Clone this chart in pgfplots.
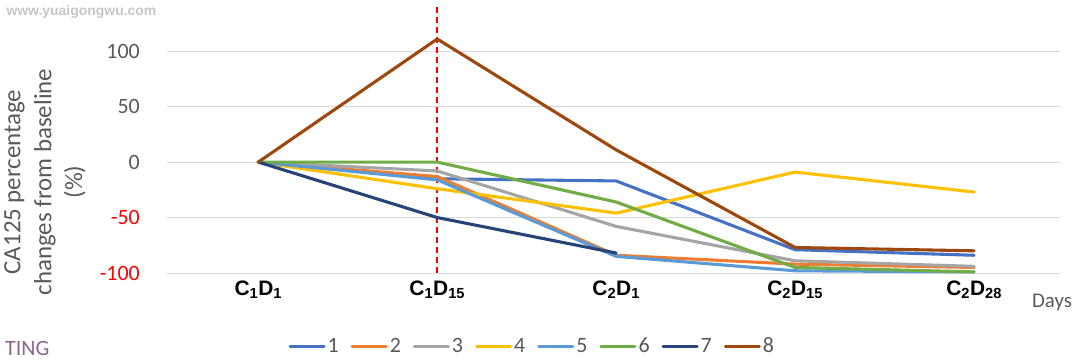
\documentclass[border=0pt]{standalone}
\usepackage{pgfplots}
\pgfplotsset{compat=1.18}
\usepackage{fontspec}
\setmainfont{Carlito}
\newfontfamily\arialfont{Liberation Sans}
\definecolor{s1}{HTML}{4472C4}
\definecolor{s2}{HTML}{ED7D31}
\definecolor{s3}{HTML}{A5A5A5}
\definecolor{s4}{HTML}{FFC000}
\definecolor{s5}{HTML}{5B9BD5}
\definecolor{s6}{HTML}{70AD47}
\definecolor{s7}{HTML}{264478}
\definecolor{s8}{HTML}{9E480E}
\definecolor{txtgray}{HTML}{595959}
\definecolor{gridgray}{HTML}{D9D9D9}
\begin{document}
\begin{tikzpicture}
\path[use as bounding box] (0,0) rectangle (1080bp,360bp);
\begin{axis}[
  scale only axis,
  width=893bp, height=244bp,
  at={(167bp,87bp)}, anchor=south west,
  xmin=-0.51, xmax=4.48,
  ymin=-100, ymax=120,
  xtick={0,1,2,3,4},
  xticklabels={C\textsubscript{1}D\textsubscript{1},C\textsubscript{1}D\textsubscript{15},C\textsubscript{2}D\textsubscript{1},C\textsubscript{2}D\textsubscript{15},C\textsubscript{2}D\textsubscript{28}},
  ytick={-100,-50,0,50,100},
  yticklabels={\textcolor{red}{-100},\textcolor{red}{-50},0,50,100},
  xticklabel style={font=\arialfont\bfseries\fontsize{21}{24}\selectfont, text=black, yshift=-4bp},
  yticklabel style={font=\fontsize{22}{24}\selectfont, text=txtgray, inner sep=0pt, xshift=-27bp},
  major tick length=0pt,
  axis line style={draw=none},
  ymajorgrids, grid style={gridgray, line width=1pt},
  clip=false,
  legend columns=8,
  legend style={at={(0.409,-0.30)}, anchor=center, draw=none, fill=none,
    font=\fontsize{22}{24}\selectfont, text=txtgray,
    /tikz/every even column/.append style={column sep=10bp},
    /tikz/every odd column/.append style={column sep=0bp}},
  legend image code/.code={\draw[#1] (0bp,0bp) -- (34bp,0bp);},
  every axis plot/.append style={line width=3.1pt, line join=round, line cap=round, no markers},
]
\draw[red, dash pattern=on 6bp off 4bp, line width=2pt] (axis cs:1,-100) -- (axis cs:1,141);
\addplot[s1] coordinates {(0,0) (1,-15) (2,-17) (3,-79) (4,-84)};
\addlegendentry{1}
\addplot[s2] coordinates {(0,0) (1,-13) (2,-84) (3,-92) (4,-95)};
\addlegendentry{2}
\addplot[s3] coordinates {(0,0) (1,-8) (2,-58) (3,-89) (4,-94)};
\addlegendentry{3}
\addplot[s4] coordinates {(0,0) (1,-24) (2,-46) (3,-9) (4,-27)};
\addlegendentry{4}
\addplot[s5] coordinates {(0,0) (1,-16) (2,-85) (3,-98) (4,-99)};
\addlegendentry{5}
\addplot[s6] coordinates {(0,0) (1,0) (2,-36) (3,-95) (4,-99)};
\addlegendentry{6}
\addplot[s7] coordinates {(0,0) (1,-50) (2,-82)};
\addlegendentry{7}
\addplot[s8] coordinates {(0,0) (1,111) (2,11) (3,-77) (4,-80)};
\addlegendentry{8}
\end{axis}
\node[rotate=90, align=center, text=txtgray, font=\fontsize{25}{31}\selectfont] at (45bp,178bp) {CA125 percentage\\changes from baseline\\(\%)};
\node[text=txtgray, font=\fontsize{21}{24}\selectfont] at (1052bp,58bp) {Days};
\node[text=gray!45, font=\arialfont\bfseries\fontsize{14}{16}\selectfont, anchor=west] at (3bp,348bp) {www.yuaigongwu.com};
\node[text={rgb,255:red,140;green,100;blue,140}, font=\fontsize{22}{24}\selectfont, anchor=west, inner sep=0pt] at (5bp,12bp) {TING};
\end{tikzpicture}
\end{document}
